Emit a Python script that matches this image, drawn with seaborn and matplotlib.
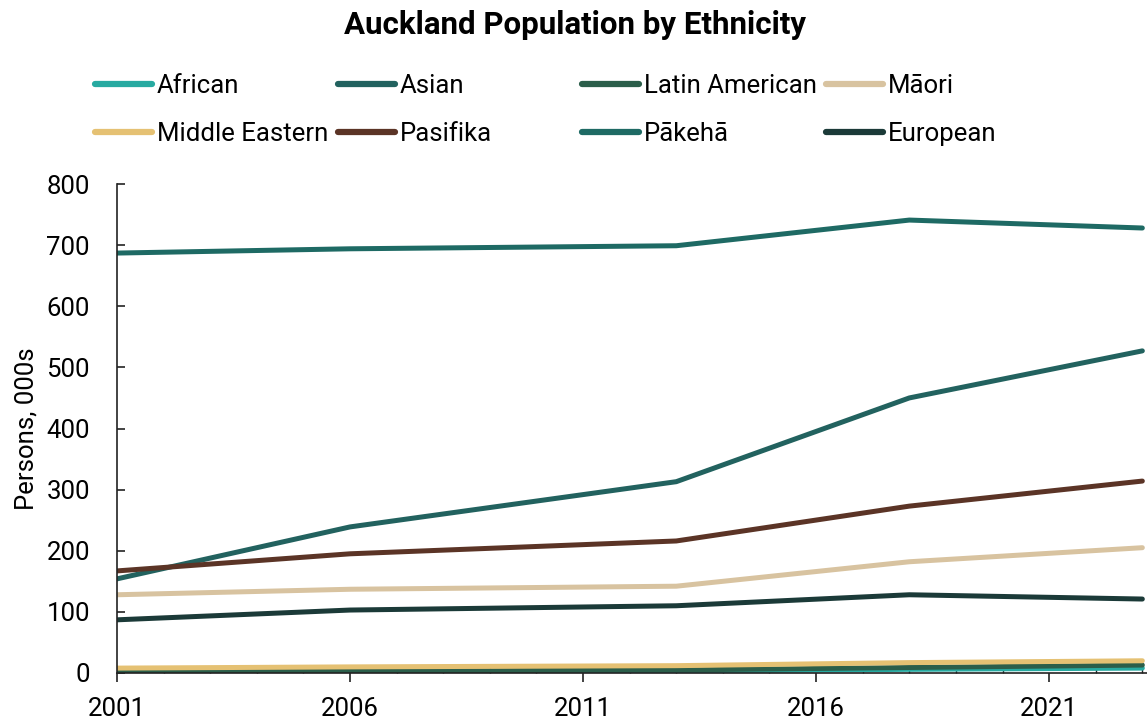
import pandas as pd
import matplotlib.pyplot as plt
import seaborn as sns
from matplotlib.ticker import MultipleLocator

years = [2001, 2006, 2013, 2018, 2023]

african = [1, 2, 3, 6, 8]
asian = [154, 239, 313, 450, 527]
latin_american = [2, 3, 5, 9, 13]
maori = [128, 137, 142, 182, 205]
middle_eastern = [8, 10, 12, 17, 20]
pasifika = [167, 195, 216, 273, 314]
pakeha = [687, 694, 699, 741, 728]
european = [87, 103, 110, 128, 121]

x_ticks = [2001, 2006, 2011, 2016, 2021]

series = {
    'African': african,
    'Asian': asian,
    'Latin American': latin_american,
    'Māori': maori,
    'Middle Eastern': middle_eastern,
    'Pasifika': pasifika,
    'Pākehā': pakeha,
    'European': european,
}
colors = {
    'African': '#27aaa1',
    'Asian': '#22625f',
    'Latin American': '#2b5e4a',
    'Māori': '#d8c3a0',
    'Middle Eastern': '#e5c173',
    'Pasifika': '#5b3426',
    'Pākehā': '#1e6a64',
    'European': '#1b3a38',
}

rows = []
for name, vals in series.items():
    for y, v in zip(years, vals):
        rows.append({'Year': y, 'Persons': v, 'Ethnicity': name})
df = pd.DataFrame(rows)

sns.set_style('white')
plt.rcParams['font.family'] = ['Roboto', 'DejaVu Sans']
plt.rcParams['text.color'] = 'black'

fig = plt.figure(figsize=(11.47, 7.19), dpi=100)
ax = fig.add_axes([117 / 1147, 46 / 719, 1030 / 1147, 489 / 719])

sns.lineplot(data=df, x='Year', y='Persons', hue='Ethnicity',
             hue_order=list(series.keys()), palette=colors,
             linewidth=3.6, ax=ax, legend=False)

ax.set_xlim(2001, 2023.1)
ax.set_ylim(0, 800)
ax.set_xticks(x_ticks)
ax.xaxis.set_minor_locator(MultipleLocator(1))
ax.yaxis.set_major_locator(MultipleLocator(100))
ax.tick_params(axis='x', which='major', direction='out', length=6.5, width=1.2,
               labelsize=18.5, colors='#222222', labelcolor='black', bottom=True, pad=10.5)
ax.tick_params(axis='x', which='minor', direction='in', length=4, width=1,
               colors='#222222', bottom=True)
ax.tick_params(axis='y', which='major', direction='in', length=6, width=1.2,
               labelsize=18.5, colors='#222222', labelcolor='black', left=True, pad=19.5)
for side in ['top', 'right']:
    ax.spines[side].set_visible(False)
for side in ['left', 'bottom']:
    ax.spines[side].set_color('#222222')
    ax.spines[side].set_linewidth(1.2)

ax.set_xlabel('')
ax.set_ylabel('Persons, 000s', fontsize=18.5, labelpad=6, color='black')

# one small legend per column so every column has the same width
columns = [['African', 'Middle Eastern'], ['Asian', 'Pasifika'],
           ['Latin American', 'Pākehā'], ['Māori', 'European']]
col_x = [95, 338, 582, 826]
for names, cx in zip(columns, col_x):
    handles = [plt.Line2D([], [], color=colors[n], linewidth=4.5,
                          solid_capstyle='round') for n in names]
    leg = fig.legend(handles, names, loc='center left',
                     bbox_to_anchor=(cx / 1147, 1 - 110 / 719),
                     frameon=False, fontsize=18.5, handlelength=2.2,
                     handletextpad=0.2, labelspacing=0.9,
                     borderpad=0, borderaxespad=0)

fig.suptitle('Auckland Population by Ethnicity', fontsize=22.5, fontweight='bold',
             x=575 / 1147, y=1 - 25 / 719, va='center', color='black')

fig.savefig('out.png', dpi=100)
